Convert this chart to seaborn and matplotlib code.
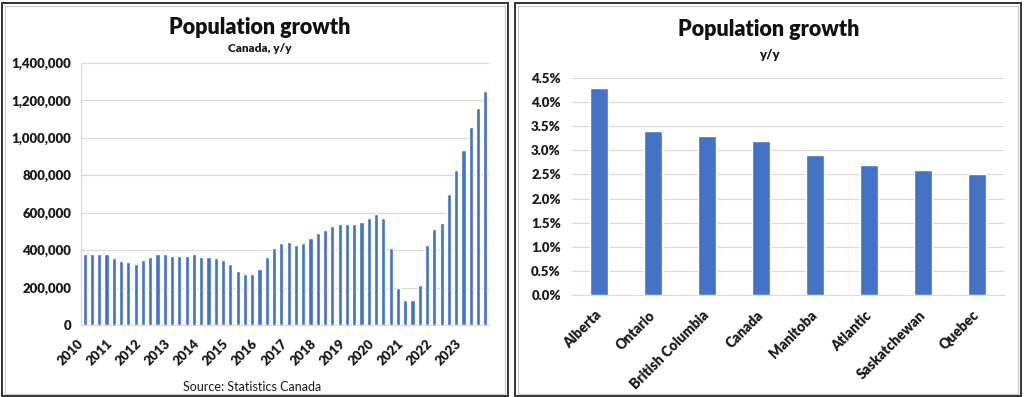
import seaborn as sns
import matplotlib.pyplot as plt
import matplotlib.patches as mpatches
import matplotlib.transforms as mtransforms
import pandas as pd

# Canada y/y population growth, quarterly 2010-2023
years = [str(y) for y in range(2010, 2024)]
canada_growth = [
    382000, 380000, 377000, 377000,   # 2010
    359000, 341000, 336000, 327000,   # 2011
    350000, 363000, 377000, 380000,   # 2012
    368000, 368000, 370000, 377000,   # 2013
    366000, 366000, 356000, 347000,   # 2014
    325000, 288000, 274000, 270000,   # 2015
    300000, 364000, 409000, 436000,   # 2016
    445000, 427000, 437000, 466000,   # 2017
    491000, 509000, 529000, 539000,   # 2018
    538000, 538000, 548000, 571000,   # 2019
    595000, 571000, 412000, 200000,   # 2020
    132000, 136000, 212000, 425000,   # 2021
    512000, 546000, 702000, 828000,   # 2022
    933000, 1058000, 1161000, 1253000,  # 2023
]
quarters = [f"{y}Q{q}" for y in years for q in range(1, 5)]

regions = ['Alberta', 'Ontario', 'British Columbia', 'Canada', 'Manitoba',
           'Atlantic', 'Saskatchewan', 'Quebec']
region_growth = [4.3, 3.4, 3.3, 3.2, 2.9, 2.7, 2.6, 2.5]

df_left = pd.DataFrame({'period': quarters, 'growth': canada_growth})
df_right = pd.DataFrame({'region': regions, 'growth': region_growth})

sns.set_style("white")
plt.rcParams['font.family'] = ['Lato', 'DejaVu Sans']

blue = '#4472C4'
grid = '#d9d9d9'
txt = '#1a1a1a'

fig = plt.figure(figsize=(10.24, 3.97), dpi=100)

# panel frames
for x0, x1 in [(2, 508), (515, 1021)]:
    fig.patches.append(mpatches.Rectangle((x0 / 1024, 1 - 396 / 397), (x1 - x0) / 1024, 393 / 397,
                                          transform=fig.transFigure, fill=False,
                                          edgecolor='#333333', linewidth=1.4))
    fig.patches.append(mpatches.Rectangle(((x0 + 3) / 1024, 1 - 394 / 397), (x1 - x0 - 6) / 1024, 388 / 397,
                                          transform=fig.transFigure, fill=False,
                                          edgecolor='#c8c8c8', linewidth=0.8))


def shift_labels(ax, dx_px):
    off = mtransforms.ScaledTranslation(dx_px / 100, 0, fig.dpi_scale_trans)
    for lab in ax.get_xticklabels():
        lab.set_transform(lab.get_transform() + off)


# ---- left chart
ax1 = fig.add_axes([81 / 1024, 1 - 325 / 397, 408 / 1024, 262 / 397])
sns.barplot(data=df_left, x='period', y='growth', order=quarters, color=blue,
            width=0.55, saturation=1, ax=ax1)
ax1.set_ylim(0, 1400000)
ax1.set_xlim(-0.5, len(quarters) - 0.5)
ax1.set_yticks(range(0, 1400001, 200000))
ax1.set_yticklabels([f"{v:,}" for v in range(0, 1400001, 200000)],
                    fontsize=9.5, fontweight='heavy', color=txt)
ticks = [i * 4 - 0.5 for i in range(len(years) + 1)]
ax1.set_xticks(ticks)
ax1.set_xticklabels(years + [''], rotation=45, ha='right', va='center',
                    rotation_mode='anchor', fontsize=9.5, fontweight='heavy', color=txt)
shift_labels(ax1, 9)
ax1.tick_params(axis='x', length=4, color=grid, pad=8)
ax1.tick_params(axis='y', length=0, pad=7)
ax1.grid(axis='y', color=grid, linewidth=0.8)
ax1.set_axisbelow(True)
for s in ['top', 'right']:
    ax1.spines[s].set_visible(False)
ax1.spines['left'].set_color(grid)
ax1.spines['bottom'].set_color(grid)
ax1.set_xlabel('')
ax1.set_ylabel('')
fig.text(260 / 1024, 1 - 28 / 397, 'Population growth', ha='center', va='center',
         fontsize=15.5, fontweight='heavy', color='#111111')
fig.text(260 / 1024, 1 - 48 / 397, 'Canada, y/y', ha='center', va='center',
         fontsize=8.5, fontweight='heavy', color=txt)
fig.text(252 / 1024, 1 - 387 / 397, 'Source: Statistics Canada', ha='center', va='center',
         fontsize=9, color=txt)

# ---- right chart
ax2 = fig.add_axes([572 / 1024, 1 - 295 / 397, 432 / 1024, 217 / 397])
sns.barplot(data=df_right, x='region', y='growth', order=regions, color=blue,
            width=0.32, saturation=1, ax=ax2)
ax2.set_ylim(0, 4.5)
yt = [i * 0.5 for i in range(10)]
ax2.set_yticks(yt)
ax2.set_yticklabels([f"{v:.1f}%" for v in yt], fontsize=9.5, fontweight='heavy', color=txt)
ax2.set_xticks(range(len(regions)))
ax2.set_xticklabels(regions, rotation=45, ha='right', va='center', rotation_mode='anchor',
                    fontsize=10, fontweight='heavy', color=txt)
shift_labels(ax2, 6)
ax2.tick_params(axis='x', length=0, pad=13)
ax2.tick_params(axis='y', length=0, pad=8)
ax2.grid(axis='y', color=grid, linewidth=0.8)
ax2.set_axisbelow(True)
for s in ['top', 'right', 'left']:
    ax2.spines[s].set_visible(False)
ax2.spines['bottom'].set_color(grid)
ax2.set_xlabel('')
ax2.set_ylabel('')
fig.text(769 / 1024, 1 - 30 / 397, 'Population growth', ha='center', va='center',
         fontsize=15.5, fontweight='heavy', color='#111111')
fig.text(769 / 1024, 1 - 55 / 397, 'y/y', ha='center', va='center',
         fontsize=9.5, fontweight='heavy', color=txt)

fig.savefig('out.png', dpi=100)
